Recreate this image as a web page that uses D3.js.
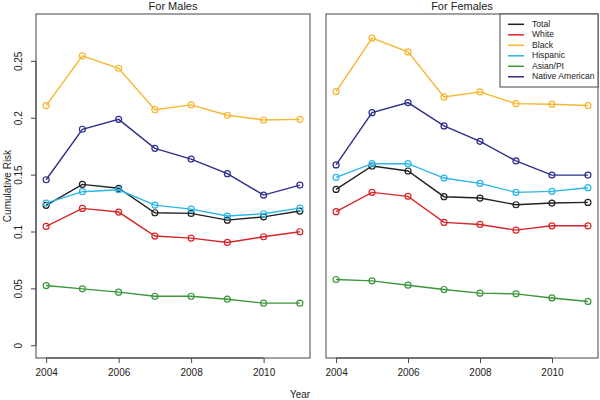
<!DOCTYPE html>
<html><head><meta charset="utf-8">
<script src="https://cdn.jsdelivr.net/npm/d3@7"></script>
<style>body{margin:0;background:#fff}svg{display:block;font-family:"Liberation Sans",Arial,sans-serif}</style>
</head><body><svg id="c" width="600" height="400"></svg>
<script>
const years = [2004,2005,2006,2007,2008,2009,2010,2011];
const seriesNames = ["Total","White","Black","Hispanic","Asian/PI","Native American"];
const seriesColors = ["#222222","#d7262b","#f5b731","#29b6e8","#3c963c","#2e2e8c"];
const panelTitles = ["For Males","For Females"];
const yTicks = [0,0.05,0.1,0.15,0.2,0.25];
const xTicks = [2004,2006,2008,2010];

const maleTotal    = [0.123,0.1414,0.138,0.1165,0.1159,0.110,0.1129,0.118];
const maleWhite    = [0.1045,0.1203,0.1171,0.096,0.0942,0.0904,0.0954,0.0998];
const maleBlack    = [0.2107,0.2544,0.2435,0.2071,0.2113,0.2022,0.198,0.1986];
const maleHispanic = [0.125,0.135,0.1367,0.1232,0.1197,0.1136,0.1156,0.1206];
const maleAsian    = [0.0525,0.0496,0.0467,0.0431,0.0431,0.0405,0.037,0.037];
const maleNative   = [0.1455,0.1899,0.1986,0.1731,0.1637,0.1508,0.132,0.1408];

const femaleTotal    = [0.137,0.1576,0.1532,0.1306,0.1294,0.1235,0.125,0.1256];
const femaleWhite    = [0.1174,0.1344,0.1309,0.108,0.1062,0.1012,0.105,0.105];
const femaleBlack    = [0.223,0.270,0.2579,0.2183,0.2227,0.2124,0.2119,0.2107];
const femaleHispanic = [0.1476,0.1596,0.1596,0.147,0.1423,0.1344,0.1353,0.1385];
const femaleAsian    = [0.0578,0.0566,0.0528,0.049,0.0458,0.0452,0.0416,0.0385];
const femaleNative   = [0.1585,0.2045,0.2133,0.1928,0.1793,0.162,0.1496,0.1496];

const panelsData = [
  [maleTotal,maleWhite,maleBlack,maleHispanic,maleAsian,maleNative],
  [femaleTotal,femaleWhite,femaleBlack,femaleHispanic,femaleAsian,femaleNative]
];

(function(){
const svg = d3.select("#c");
const pTop = 14, pBottom = 358;
const panels = [{x0:36,x1:310},{x0:326,x1:598}];
const y = d3.scaleLinear().domain([-0.0112,0.2912]).range([pBottom,pTop]);

panels.forEach((p,pi)=>{
  const x = d3.scaleLinear().domain([2003.72,2011.28]).range([p.x0,p.x1]);
  const g = svg.append("g");
  g.append("rect").attr("x",p.x0).attr("y",pTop).attr("width",p.x1-p.x0).attr("height",pBottom-pTop)
    .attr("fill","none").attr("stroke","#444").attr("stroke-width",1);
  g.append("text").attr("x",(p.x0+p.x1)/2).attr("y",10).attr("text-anchor","middle")
    .attr("font-size",11).attr("fill","#222").text(panelTitles[pi]);
  const xa = g.append("g").attr("transform",`translate(0,${pBottom})`)
    .call(d3.axisBottom(x).tickValues(xTicks).tickFormat(d3.format("d")).tickSize(5).tickPadding(6));
  xa.select(".domain").attr("d",`M${x(2004)},0H${x(2010)}`).attr("stroke","#444");
  xa.selectAll(".tick line").attr("stroke","#444");
  xa.selectAll("text").attr("font-size",10).attr("fill","#222").attr("font-family","Liberation Sans, Arial, sans-serif");
  if(pi===0){
    const ya = g.append("g").attr("transform",`translate(${p.x0},0)`)
      .call(d3.axisLeft(y).tickValues(yTicks).tickFormat(d=>d===0?"0":String(d)).tickSize(5).tickPadding(0));
    ya.select(".domain").attr("d",`M0,${y(0)}V${y(0.25)}`).attr("stroke","#444");
    ya.selectAll(".tick line").attr("stroke","#444");
    ya.selectAll(".tick text").attr("font-size",10).attr("fill","#222")
      .attr("font-family","Liberation Sans, Arial, sans-serif")
      .attr("text-anchor","middle").attr("x",0).attr("dy",0)
      .attr("transform","translate(-17,0) rotate(-90)").attr("dominant-baseline","middle");
  }
  const line = d3.line().x((d,i)=>x(years[i])).y(d=>y(d));
  panelsData[pi].forEach((vals,si)=>{
    g.append("path").datum(vals).attr("d",line).attr("fill","none")
      .attr("stroke",seriesColors[si]).attr("stroke-width",1.4);
    g.selectAll(null).data(vals).enter().append("circle")
      .attr("cx",(d,i)=>x(years[i])).attr("cy",d=>y(d)).attr("r",3)
      .attr("fill","none").attr("stroke",seriesColors[si]).attr("stroke-width",1.2);
  });
});

svg.append("text").attr("transform",`translate(8,${(pTop+pBottom)/2}) rotate(-90)`)
  .attr("text-anchor","middle").attr("dominant-baseline","middle").attr("font-size",10).attr("fill","#222").text("Cumulative Risk");
svg.append("text").attr("x",300).attr("y",398).attr("text-anchor","middle")
  .attr("font-size",10).attr("fill","#222").text("Year");

const lg = svg.append("g");
lg.append("rect").attr("x",500).attr("y",pTop).attr("width",98).attr("height",73)
  .attr("fill","#fff").attr("stroke","#444");
seriesNames.forEach((n,i)=>{
  const yy = 24.3 + i*10.5;
  lg.append("line").attr("x1",508).attr("x2",524).attr("y1",yy).attr("y2",yy)
    .attr("stroke",seriesColors[i]).attr("stroke-width",1.5);
  lg.append("text").attr("x",532).attr("y",yy).attr("dominant-baseline","middle")
    .attr("font-size",8.6).attr("fill","#222").text(n);
});
})();
</script></body></html>
